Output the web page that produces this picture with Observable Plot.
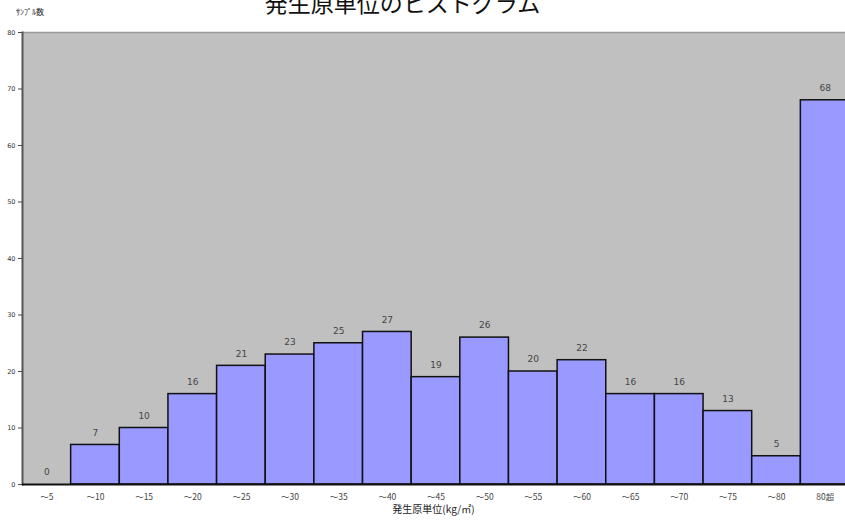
<!DOCTYPE html>
<html>
<head>
<meta charset="utf-8">
<script src="https://cdn.jsdelivr.net/npm/d3@7"></script>
<script src="https://cdn.jsdelivr.net/npm/@observablehq/plot@0.6"></script>
<style>
  html, body { margin: 0; padding: 0; background: #fff; overflow: hidden; }
  #wrap { position: relative; width: 845px; height: 520px; }
  #title { position: absolute; left: 0; width: 805px; top: -13px; text-align: center;
           font-family: "Noto Sans CJK JP", sans-serif; font-size: 23px; line-height: 30px; color: #111; }
  #ylab { position: absolute; left: 16px; top: 6px; font-family: "Noto Sans CJK JP", sans-serif;
          font-size: 8px; color: #222; }
  #xlab { position: absolute; left: 22px; width: 823px; top: 501px; text-align: center;
          font-family: "Noto Sans CJK JP", sans-serif; font-size: 10px; color: #222; }
  #chart { position: absolute; left: 0; top: 0; }
</style>
</head>
<body>
<div id="wrap">
  <div id="chart"></div>
  <div id="title">発生原単位のヒストグラム</div>
  <div id="ylab">ｻﾝﾌﾟﾙ数</div>
  <div id="xlab">発生原単位(kg/㎡)</div>
</div>
<script>
const categories = ["～5","～10","～15","～20","～25","～30","～35","～40","～45","～50","～55","～60","～65","～70","～75","～80","80超"];
const counts = [0,7,10,16,21,23,25,27,19,26,20,22,16,16,13,5,68];
const yTicks = [0,10,20,30,40,50,60,70,80];

const data = categories.map((c, i) => ({cat: c, n: counts[i]}));

const chart = Plot.plot({
  width: 849,
  height: 520,
  marginLeft: 22,
  marginRight: 0,
  marginTop: 32,
  marginBottom: 36,
  style: {fontFamily: "DejaVu Sans, sans-serif", background: "transparent", maxWidth: "none"},
  x: {domain: categories, padding: 0, round: false, label: null},
  y: {domain: [0, 80], label: null},
  marks: [
    Plot.frame({fill: "#c0c0c0", stroke: null}),
    Plot.ruleY([80], {stroke: "#999", strokeWidth: 1.5}),
    Plot.barY(data, {x: "cat", y: "n", fill: "#9999ff", stroke: "#111", strokeWidth: 1.5, inset: 0}),
    Plot.text(data, {x: "cat", y: "n", text: d => String(d.n), dy: -12, fontSize: 9, fill: "#444"}),
    Plot.axisY({ticks: yTicks, tickSize: 4, tickPadding: 3, fontSize: 6.5, stroke: "#444", fill: "#333", label: null}),
    Plot.axisX({tickSize: 0, tickPadding: 9, fontSize: 8.5, fill: "#444", fontFamily: "Noto Sans CJK JP, sans-serif", label: null}),
    Plot.frame({anchor: "left", stroke: "#555", strokeWidth: 2}),
    Plot.ruleY([0], {stroke: "#111", strokeWidth: 2})
  ]
});
document.getElementById("chart").appendChild(chart);
</script>
</body>
</html>
